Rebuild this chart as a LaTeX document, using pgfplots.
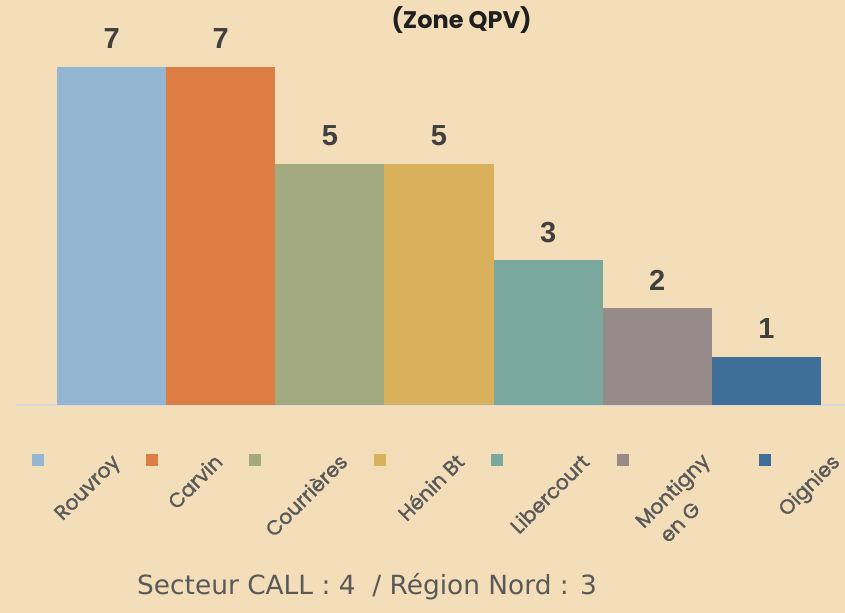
\documentclass[border=0pt]{standalone}
\usepackage{fontspec}
\setmainfont{Poppins}
\newfontfamily\labfont{Poppins}[FakeBold=1.4]
\newfontfamily\valfont{Liberation Sans}
\newfontfamily\botfont{DejaVu Sans}
\usepackage{pgfplots}
\pgfplotsset{compat=1.18}
\definecolor{bg}{HTML}{F3DEB9}
\definecolor{c1}{HTML}{95B6D3}
\definecolor{c2}{HTML}{DD7F45}
\definecolor{c3}{HTML}{A3AA7F}
\definecolor{c4}{HTML}{D9B05B}
\definecolor{c5}{HTML}{7BA89D}
\definecolor{c6}{HTML}{968B89}
\definecolor{c7}{HTML}{3F6F98}
\definecolor{axisgray}{HTML}{D9D9D9}
\definecolor{vallabel}{HTML}{404040}
\definecolor{labgray}{HTML}{595959}
\definecolor{titlecol}{HTML}{1F1F1F}
\begin{document}
\begin{tikzpicture}
\begin{scope}[x=0.5pt,y=-0.5pt]
\fill[bg] (0,0) rectangle (845,613);
\end{scope}
\begin{axis}[
  at={(8pt,-202.5pt)}, anchor=south west,
  scale only axis, width=414.5pt, height=169pt,
  xmin=-0.8757, xmax=6.72, ymin=0, ymax=7,
  ybar, bar width=1, bar shift=0pt,
  axis x line=bottom, axis y line=none,
  x axis line style={-, draw=axisgray, line width=1.1pt},
  xtick=\empty, ytick=\empty,
  clip=false,
  /pgf/number format/assume math mode=true,
  nodes near coords,
  every node near coord/.append style={font=\valfont\bfseries\fontsize{14.5}{16}\selectfont, text=vallabel, anchor=base, yshift=9pt},
]
\addplot[fill=c1, draw=none] coordinates {(0,7)};
\addplot[fill=c2, draw=none] coordinates {(1,7)};
\addplot[fill=c3, draw=none] coordinates {(2,5)};
\addplot[fill=c4, draw=none] coordinates {(3,5)};
\addplot[fill=c5, draw=none] coordinates {(4,3)};
\addplot[fill=c6, draw=none] coordinates {(5,2)};
\addplot[fill=c7, draw=none] coordinates {(6,1)};
\end{axis}
\begin{scope}[x=0.5pt,y=-0.5pt]
\node[anchor=base, font=\bfseries\fontsize{12}{14}\selectfont, text=titlecol] at (461.5,29) {(Zone QPV)};
% legend markers
\fill[c1] (32,454) rectangle (44,466);
\fill[c2] (146,454) rectangle (158,466);
\fill[c3] (249,454) rectangle (261,466);
\fill[c4] (374,454) rectangle (386,466);
\fill[c5] (491,454) rectangle (503,466);
\fill[c6] (617,454) rectangle (629,466);
\fill[c7] (759,454) rectangle (771,466);
\begin{scope}[every node/.style={rotate=45, anchor=base east, inner sep=0pt, font=\labfont\fontsize{10.2}{12}\selectfont, text=labgray}]
\node at (121,463) {Rouvroy};
\node at (224,463) {Carvin};
\node at (349,463) {Courrières};
\node at (466,463) {Hénin Bt};
\node at (591,463) {Libercourt};
\node at (711,462) {Montigny};
\node[anchor=base west] at (668,544) {en G};
\node at (841,463) {Oignies};
\end{scope}
\node[anchor=base, font=\botfont\fontsize{13.2}{15}\selectfont, text=labgray] at (367,595) {Secteur CALL : 4\ \ / Région Nord : 3};
\end{scope}
\pgfresetboundingbox
\useasboundingbox (0,0) rectangle (422.5pt,-306.5pt);
\end{tikzpicture}
\end{document}
